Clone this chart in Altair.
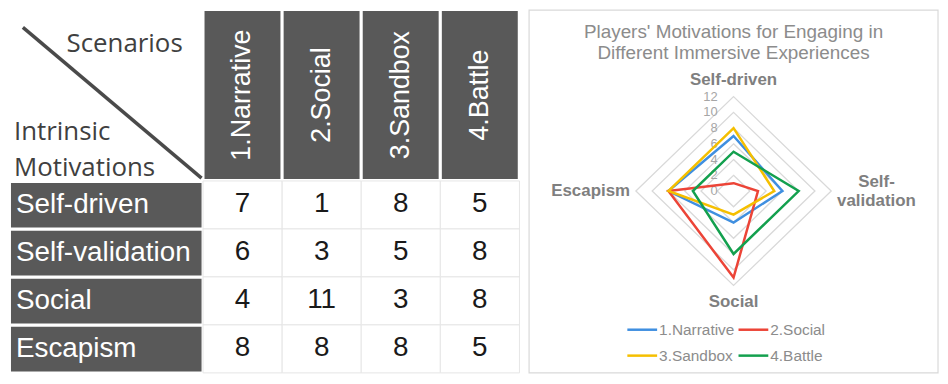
import altair as alt
import pandas as pd

# ---------------- data ----------------
scenarios = ["1.Narrative", "2.Social", "3.Sandbox", "4.Battle"]
motivations = ["Self-driven", "Self-validation", "Social", "Escapism"]
narrative = [7, 6, 4, 8]
social = [1, 3, 11, 8]
sandbox = [8, 5, 3, 8]
battle = [5, 8, 8, 5]
series_values = [narrative, social, sandbox, battle]
series_colors = ["#3F8FE0", "#EC4437", "#F5BF00", "#13A04E"]
ring_values = [2, 4, 6, 8, 10, 12]
tick_values = [0, 2, 4, 6, 8, 10, 12]
radar_labels = ["Self-driven", "Self-\nvalidation", "Social", "Escapism"]
chart_title = "Players' Motivations for Engaging in\nDifferent Immersive Experiences"
corner_top = "Scenarios"
corner_bottom = "Intrinsic\nMotivations"

# ---------------- tables built from the arrays ----------------
long_rows = []
for si, (sc, vals) in enumerate(zip(scenarios, series_values)):
    for mj, (mo, v) in enumerate(zip(motivations, vals)):
        long_rows.append({"scenario": sc, "si": si, "motivation": mo, "mj": mj, "value": v})
long_df = pd.DataFrame(long_rows)
cols_df = pd.DataFrame({"scenario": scenarios, "i": list(range(len(scenarios)))})
rows_df = pd.DataFrame({"motivation": motivations, "j": list(range(len(motivations)))})
rings_df = pd.DataFrame([{"ring": r, "j": j} for r in ring_values for j in range(4)])
ticks_df = pd.DataFrame({"tick": tick_values})
labels_df = pd.DataFrame({"label": radar_labels, "j": list(range(4))})
legend_df = pd.DataFrame({"scenario": scenarios, "i": list(range(len(scenarios)))})

# ---------------- layout (pixel frame of the picture) ----------------
W, H = 938, 368
xs = alt.Scale(domain=[8, 947], nice=False, zero=False)
ys = alt.Scale(domain=[1, 382], nice=False, zero=False, reverse=True)
DARK = "#595959"
CX, CY, UNIT = 739, 190.5, 8.2
FONT = "Liberation Sans"


def X(f):
    return alt.X(f, type="quantitative", scale=xs, axis=None)


def Y(f):
    return alt.Y(f, type="quantitative", scale=ys, axis=None)


color = alt.Color("scenario:N", scale=alt.Scale(domain=scenarios, range=series_colors), legend=None)

# right panel frame
panel = alt.Chart(pd.DataFrame({"a": [0]})).transform_calculate(
    x0="533", x1="945", y0="2", y1="380"
).mark_rect(fill="white", stroke="#d9d9d9", strokeWidth=1.2).encode(
    x=X("x0"), x2="x1:Q", y=Y("y0"), y2="y1:Q"
)

# column header cells
col_geo = dict(x0="206 + datum.i * 79.7", x1="datum.x0 + 76.5", xc="datum.x0 + 38.25",
               y0="3", y1="178", yc="90.5")
head_rect = alt.Chart(cols_df).transform_calculate(**col_geo).mark_rect(color=DARK).encode(
    x=X("x0"), x2="x1:Q", y=Y("y0"), y2="y1:Q"
)
head_text = alt.Chart(cols_df).transform_calculate(**col_geo).mark_text(
    angle=270, color="white", fontSize=27, font=FONT, align="center", baseline="middle"
).encode(x=X("xc"), y=Y("yc"), text="scenario:N")

# row header cells
row_geo = dict(y0="182 + datum.j * 50", y1="datum.y0 + 46.5", yc="datum.y0 + 23.5",
               x0="11", x1="203", xt="16")
row_rect = alt.Chart(rows_df).transform_calculate(**row_geo).mark_rect(color=DARK).encode(
    x=X("x0"), x2="x1:Q", y=Y("y0"), y2="y1:Q"
)
row_text = alt.Chart(rows_df).transform_calculate(**row_geo).mark_text(
    color="white", fontSize=28, font=FONT, align="left", baseline="middle"
).encode(x=X("xt"), y=Y("yc"), text="motivation:N")

# data cells
cell_geo = dict(x0="204.5 + datum.si * 79.7", x1="datum.x0 + 79.7", xc="datum.x0 + 39.8",
                y0="180 + datum.mj * 50", y1="datum.y0 + 50", yc="datum.y0 + 24.5")
cell_rect = alt.Chart(long_df).transform_calculate(**cell_geo).mark_rect(
    fill="white", stroke="#e6e6e6", strokeWidth=1
).encode(x=X("x0"), x2="x1:Q", y=Y("y0"), y2="y1:Q")
cell_text = alt.Chart(long_df).transform_calculate(**cell_geo).mark_text(
    color="#1a1a1a", fontSize=28, font=FONT, align="center", baseline="middle"
).encode(x=X("xc"), y=Y("yc"), text="value:Q")

# corner
diag = alt.Chart(pd.DataFrame({"a": [0]})).transform_calculate(
    x0="23", y0="20", x1="203", y1="177"
).mark_rule(color="#4a4a4a", strokeWidth=3.5).encode(x=X("x0"), y=Y("y0"), x2="x1:Q", y2="y1:Q")
corner_t = alt.Chart(pd.DataFrame({"t": [corner_top]})).transform_calculate(
    x="67", y="37"
).mark_text(color="#404040", fontSize=26, font="Open Sans", align="left", baseline="middle").encode(
    x=X("x"), y=Y("y"), text="t:N")
corner_b = alt.Chart(pd.DataFrame({"t": [corner_bottom]})).transform_calculate(
    x="14", y="129"
).mark_text(color="#404040", fontSize=26, font="Open Sans", align="left", baseline="middle",
            lineBreak="\n", lineHeight=36).encode(x=X("x"), y=Y("y"), text="t:N")

# radar grid
ang = "datum.j * PI / 2"
grid = alt.Chart(rings_df).transform_calculate(
    a=ang,
    x=f"{CX} + datum.ring * {UNIT} * sin(datum.a)",
    y=f"{CY} - datum.ring * {UNIT} * cos(datum.a)",
).mark_line(interpolate="linear-closed", color="#d9d9d9", strokeWidth=1.3).encode(
    x=X("x"), y=Y("y"), detail="ring:N", order="j:Q"
)

ticks = alt.Chart(ticks_df).transform_calculate(
    x=f"{CX} - 16", y=f"{CY} - datum.tick * {UNIT}"
).mark_text(color="#a6a6a6", fontSize=13, font=FONT, align="right", baseline="middle").encode(
    x=X("x"), y=Y("y"), text="tick:Q"
)

lines = alt.Chart(long_df).transform_calculate(
    a="datum.mj * PI / 2",
    x=f"{CX} + datum.value * {UNIT} * sin(datum.a)",
    y=f"{CY} - datum.value * {UNIT} * cos(datum.a)",
).mark_line(interpolate="linear-closed", strokeWidth=2.5).encode(
    x=X("x"), y=Y("y"), color=color, order="mj:Q"
)

cat_labels = alt.Chart(labels_df).transform_calculate(
    a=ang,
    x=f"{CX} + 144 * sin(datum.a)",
    y=f"{CY} - 115.5 * cos(datum.a) - (indexof(datum.label, '\\n') >= 0 ? 9.5 : 0)",
).mark_text(color="#7f7f7f", fontSize=17, fontWeight="bold", font=FONT, align="center",
            baseline="middle", lineBreak="\n", lineHeight=19).encode(
    x=X("x"), y=Y("y"), text="label:N"
)

title = alt.Chart(pd.DataFrame({"t": [chart_title]})).transform_calculate(
    x=f"{CX}", y="25"
).mark_text(color="#8c8c8c", fontSize=19, font=FONT, align="center", baseline="middle",
            lineBreak="\n", lineHeight=21).encode(x=X("x"), y=Y("y"), text="t:N")

leg_geo = dict(col="datum.i % 2", row="floor(datum.i / 2)",
               x0="632 + datum.col * 112", x1="datum.x0 + 30", xt="datum.x0 + 32",
               y="335 + datum.row * 27")
leg_rule = alt.Chart(legend_df).transform_calculate(**leg_geo).mark_rule(strokeWidth=2.5).encode(
    x=X("x0"), x2="x1:Q", y=Y("y"), color=color
)
leg_text = alt.Chart(legend_df).transform_calculate(**leg_geo).mark_text(
    color="#8c8c8c", fontSize=15.5, font=FONT, align="left", baseline="middle"
).encode(x=X("xt"), y=Y("y"), text="scenario:N")

chart = alt.layer(
    panel, head_rect, head_text, row_rect, row_text, cell_rect, cell_text,
    diag, corner_t, corner_b, grid, ticks, lines, cat_labels, title, leg_rule, leg_text
).properties(
    width=W, height=H, padding=0, autosize=alt.AutoSizeParams(type="none"), background="white"
).configure_view(stroke=None)

chart.save("out.html", embed_options={"renderer": "svg", "actions": False})
